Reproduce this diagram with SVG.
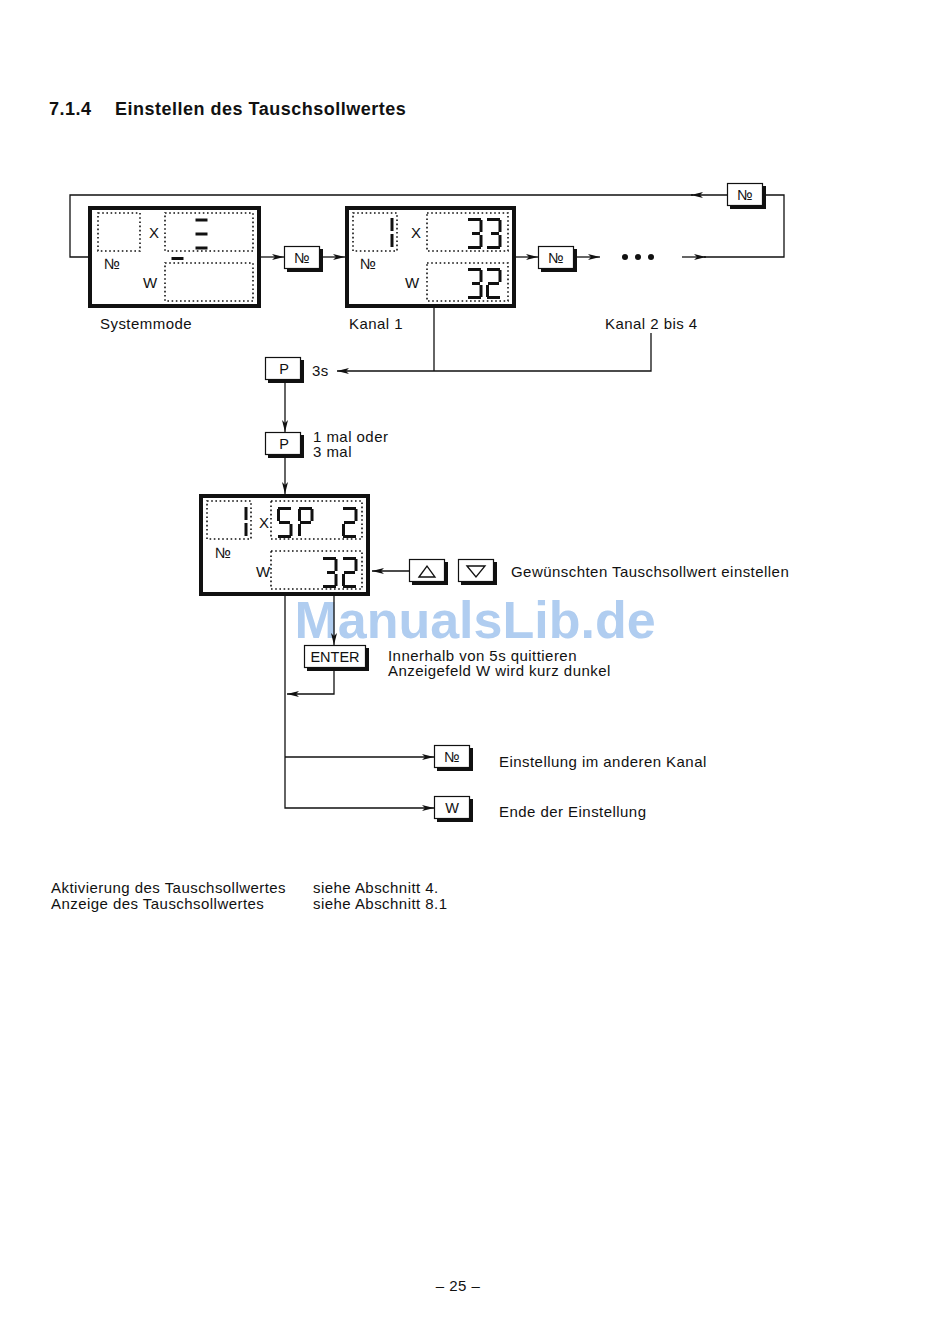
<svg xmlns="http://www.w3.org/2000/svg" width="950" height="1344" viewBox="0 0 950 1344">
<style>
text{font-family:"Liberation Sans",Arial,sans-serif;fill:#111}
.t{font-size:15px;letter-spacing:0.45px}
.h{font-size:18px;font-weight:bold;letter-spacing:0.5px}
.bt{font-size:14.5px;text-anchor:middle}
.ln{fill:none;stroke:#111;stroke-width:1.3}
.big{fill:#fff;stroke:#111;stroke-width:4}
.dot{fill:none;stroke:#111;stroke-width:1.6;stroke-dasharray:1.6 2.6}
.btn{fill:#fff;stroke:#111;stroke-width:1.2}
.sh{fill:#111}
.seg{stroke:#111;stroke-width:3;fill:none}
.wm{font-size:52px;font-weight:bold;fill:#b0cdf0;text-anchor:middle}
</style>
<defs>
<marker id="ar" viewBox="0 0 12 6" refX="12" refY="3" markerWidth="12" markerHeight="6" markerUnits="userSpaceOnUse" orient="auto">
<path d="M0,0 L12,3 L0,6 L3,3 Z" fill="#111"/>
</marker>
<g id="sa"><line class="seg" x1="1.5" y1="0" x2="13.5" y2="0"/></g>
<g id="d3">
<line class="seg" x1="1" y1="1.5" x2="14" y2="1.5"/>
<line class="seg" x1="14" y1="2" x2="14" y2="14"/>
<line class="seg" x1="5" y1="15.5" x2="13" y2="15.5"/>
<line class="seg" x1="14" y1="17" x2="14" y2="29"/>
<line class="seg" x1="1" y1="29.5" x2="14" y2="29.5"/>
</g>
<g id="d2">
<line class="seg" x1="1" y1="1.5" x2="14" y2="1.5"/>
<line class="seg" x1="14" y1="2" x2="14" y2="14"/>
<line class="seg" x1="2" y1="15.5" x2="13" y2="15.5"/>
<line class="seg" x1="1.5" y1="17" x2="1.5" y2="29"/>
<line class="seg" x1="1" y1="29.5" x2="14" y2="29.5"/>
</g>
<g id="d5">
<line class="seg" x1="1" y1="1.5" x2="14" y2="1.5"/>
<line class="seg" x1="1.5" y1="2" x2="1.5" y2="14"/>
<line class="seg" x1="2" y1="15.5" x2="13" y2="15.5"/>
<line class="seg" x1="14" y1="17" x2="14" y2="29"/>
<line class="seg" x1="1" y1="29.5" x2="14" y2="29.5"/>
</g>
<g id="dP">
<line class="seg" x1="1" y1="1.5" x2="14" y2="1.5"/>
<line class="seg" x1="1.5" y1="2" x2="1.5" y2="14"/>
<line class="seg" x1="14" y1="2" x2="14" y2="14"/>
<line class="seg" x1="2" y1="15.5" x2="13" y2="15.5"/>
<line class="seg" x1="1.5" y1="17" x2="1.5" y2="29"/>
</g>
<g id="d1">
<line class="seg" x1="0" y1="1" x2="0" y2="14"/>
<line class="seg" x1="0" y1="17" x2="0" y2="30"/>
</g>
</defs>
<rect width="950" height="1344" fill="#fff"/>

<text class="wm" x="475" y="638">ManualsLib.de</text>

<text class="h" x="49" y="115">7.1.4</text>
<text class="h" x="115" y="115">Einstellen des Tauschsollwertes</text>

<g id="connectors">
<polyline class="ln" points="88,257 70,257 70,195 693,195"/>
<line class="ln" x1="727" y1="195" x2="691" y2="195" marker-end="url(#ar)"/>
<polyline class="ln" points="763,195 784,195 784,257 704,257"/>
<line class="ln" x1="682" y1="257" x2="706" y2="257" marker-end="url(#ar)"/>
<line class="ln" x1="261" y1="257" x2="284" y2="257" marker-end="url(#ar)"/>
<line class="ln" x1="322" y1="257" x2="345" y2="257" marker-end="url(#ar)"/>
<line class="ln" x1="516" y1="257" x2="538" y2="257" marker-end="url(#ar)"/>
<line class="ln" x1="577" y1="257" x2="600" y2="257" marker-end="url(#ar)"/>
<line class="ln" x1="434" y1="308" x2="434" y2="371"/>
<polyline class="ln" points="651,333 651,371 337,371" marker-end="url(#ar)"/>
<line class="ln" x1="285" y1="382" x2="285" y2="432" marker-end="url(#ar)"/>
<line class="ln" x1="285" y1="458" x2="285" y2="494" marker-end="url(#ar)"/>
<line class="ln" x1="409" y1="571" x2="372" y2="571" marker-end="url(#ar)"/>
<line class="ln" x1="334" y1="596" x2="334" y2="645" marker-end="url(#ar)"/>
<polyline class="ln" points="334,669 334,694 287,694" marker-end="url(#ar)"/>
<polyline class="ln" points="285,596 285,808 434,808" marker-end="url(#ar)"/>
<line class="ln" x1="285" y1="757" x2="434" y2="757" marker-end="url(#ar)"/>
</g>

<g id="dots">
<circle cx="625" cy="257" r="3" fill="#111"/>
<circle cx="638" cy="257" r="3" fill="#111"/>
<circle cx="651" cy="257" r="3" fill="#111"/>
</g>

<g id="systemmode">
<rect class="big" x="90" y="208" width="169" height="98"/>
<rect class="dot" x="98" y="213" width="42" height="38"/>
<rect class="dot" x="165" y="213" width="88" height="38"/>
<rect class="dot" x="165" y="263" width="88" height="38"/>
<text class="t" x="149" y="238">X</text>
<text class="t" x="104" y="269">№</text>
<text class="t" x="143" y="288">W</text>
<use href="#sa" x="194" y="220"/>
<use href="#sa" x="194" y="234"/>
<use href="#sa" x="194" y="248"/>
<use href="#sa" x="170" y="258.5"/>
<text class="t" x="100" y="329">Systemmode</text>
</g>

<g id="btn-no-1">
<rect class="sh" x="287" y="249" width="36" height="23"/>
<rect class="btn" x="284.5" y="246.5" width="35" height="22"/>
<text class="bt" x="302" y="263">№</text>
</g>

<g id="kanal1">
<rect class="big" x="347" y="208" width="167" height="98"/>
<rect class="dot" x="353" y="213" width="44" height="38"/>
<rect class="dot" x="427" y="213" width="81" height="38"/>
<rect class="dot" x="427" y="263" width="81" height="38"/>
<text class="t" x="411" y="238">X</text>
<text class="t" x="360" y="269">№</text>
<text class="t" x="405" y="288">W</text>
<use href="#d1" x="392" y="217"/>
<use href="#d3" x="467" y="218"/>
<use href="#d3" x="486" y="218"/>
<use href="#d3" x="467" y="268"/>
<use href="#d2" x="486" y="268"/>
<text class="t" x="349" y="329">Kanal 1</text>
</g>

<g id="btn-no-2">
<rect class="sh" x="541" y="249" width="36" height="23"/>
<rect class="btn" x="538.5" y="246.5" width="35" height="22"/>
<text class="bt" x="556" y="263">№</text>
</g>

<g id="btn-no-top">
<rect class="sh" x="730" y="186" width="36" height="23"/>
<rect class="btn" x="727.5" y="183.5" width="35" height="22"/>
<text class="bt" x="745" y="200">№</text>
</g>

<g id="kanal2-4">
<text class="t" x="605" y="329">Kanal 2 bis 4</text>
</g>

<g id="btn-p-1">
<rect class="sh" x="268" y="360" width="36" height="23"/>
<rect class="btn" x="265.5" y="357.5" width="35" height="22"/>
<text class="bt" x="284" y="374">P</text>
<text class="t" x="312" y="376">3s</text>
</g>

<g id="btn-p-2">
<rect class="sh" x="268" y="435" width="36" height="23"/>
<rect class="btn" x="265.5" y="432.5" width="35" height="22"/>
<text class="bt" x="284" y="449">P</text>
<text class="t" x="313" y="442">1 mal oder</text>
<text class="t" x="313" y="457">3 mal</text>
</g>

<g id="display3">
<rect class="big" x="201" y="496" width="167" height="98"/>
<rect class="dot" x="207" y="501" width="44" height="38"/>
<rect class="dot" x="271" y="501" width="91" height="38"/>
<rect class="dot" x="271" y="551" width="91" height="38"/>
<text class="t" x="259" y="528">X</text>
<text class="t" x="215" y="558">№</text>
<text class="t" x="256" y="577">W</text>
<use href="#d1" x="246" y="506"/>
<use href="#d5" x="277" y="507"/>
<use href="#dP" x="298" y="507"/>
<use href="#d2" x="342" y="507"/>
<use href="#d3" x="322" y="557"/>
<use href="#d2" x="342" y="557"/>
</g>

<g id="btn-up">
<rect class="sh" x="412" y="562" width="36" height="23"/>
<rect class="btn" x="409.5" y="559.5" width="35" height="22"/>
<path d="M419,577 L427,566 L435,577 Z" fill="none" stroke="#111" stroke-width="1.3"/>
</g>
<g id="btn-down">
<rect class="sh" x="461" y="562" width="36" height="23"/>
<rect class="btn" x="458.5" y="559.5" width="35" height="22"/>
<path d="M467,566 L476,577 L485,566 Z" fill="none" stroke="#111" stroke-width="1.3"/>
<text class="t" x="511" y="577">Gewünschten Tauschsollwert einstellen</text>
</g>

<g id="btn-enter">
<rect class="sh" x="307" y="648" width="62" height="23"/>
<rect class="btn" x="304.5" y="645.5" width="61" height="22"/>
<text class="bt" x="335" y="662">ENTER</text>
<text class="t" x="388" y="661">Innerhalb von 5s quittieren</text>
<text class="t" x="388" y="676">Anzeigefeld W wird kurz dunkel</text>
</g>

<g id="btn-no-3">
<rect class="sh" x="437" y="748" width="36" height="23"/>
<rect class="btn" x="434.5" y="745.5" width="35" height="22"/>
<text class="bt" x="452" y="762">№</text>
<text class="t" x="499" y="767">Einstellung im anderen Kanal</text>
</g>

<g id="btn-w">
<rect class="sh" x="437" y="799" width="36" height="23"/>
<rect class="btn" x="434.5" y="796.5" width="35" height="22"/>
<text class="bt" x="452" y="813">W</text>
<text class="t" x="499" y="817">Ende der Einstellung</text>
</g>

<g id="notes">
<text class="t" x="51" y="893">Aktivierung des Tauschsollwertes</text>
<text class="t" x="51" y="909">Anzeige des Tauschsollwertes</text>
<text class="t" x="313" y="893">siehe Abschnitt 4.</text>
<text class="t" x="313" y="909">siehe Abschnitt 8.1</text>
</g>

<text class="t" x="458" y="1291" text-anchor="middle">– 25 –</text>
</svg>
